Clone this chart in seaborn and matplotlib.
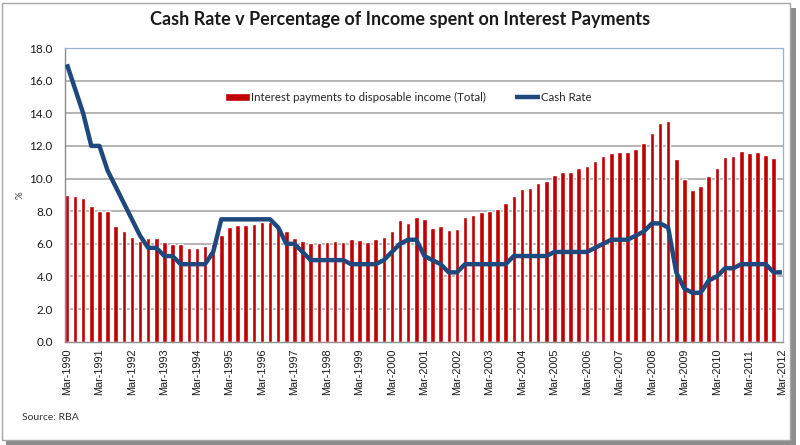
import numpy as np
import pandas as pd
import matplotlib
matplotlib.use("Agg")
import matplotlib.pyplot as plt
from matplotlib.patches import Rectangle
import seaborn as sns

sns.set_style("white")
plt.rcParams["font.family"] = ["Lato", "DejaVu Sans"]

# quarterly data, Mar-1990 onwards
interest = [
    8.98, 8.94, 8.83, 8.32,      # 1990
    8.01, 8.01, 7.09, 6.80,      # 1991
    6.39, 6.18, 6.35, 6.35,      # 1992
    6.08, 5.96, 5.96, 5.77,      # 1993
    5.73, 5.84, 6.00, 6.51,      # 1994
    7.03, 7.15, 7.17, 7.22,      # 1995
    7.35, 7.35, 7.08, 6.80,      # 1996
    6.33, 6.19, 6.05, 6.06,      # 1997
    6.13, 6.19, 6.13, 6.29,      # 1998
    6.23, 6.13, 6.29, 6.44,      # 1999
    6.80, 7.48, 7.28, 7.67,      # 2000
    7.51, 6.96, 7.10, 6.85,      # 2001
    6.90, 7.63, 7.75, 7.96,      # 2002
    7.98, 8.14, 8.49, 8.95,      # 2003
    9.36, 9.41, 9.72, 9.87,      # 2004
    10.20, 10.39, 10.43, 10.63,  # 2005
    10.78, 11.08, 11.39, 11.55,  # 2006
    11.61, 11.61, 11.80, 12.20,  # 2007
    12.80, 13.40, 13.50, 11.22,  # 2008
    9.96, 9.27, 9.55, 10.16,     # 2009
    10.63, 11.29, 11.39, 11.69,  # 2010
    11.59, 11.63, 11.45, 11.24,  # 2011
]

cash_rate = [
    17.0, 15.5, 14.0, 12.0,      # 1990
    12.0, 10.5, 9.5, 8.5,        # 1991
    7.5, 6.5, 5.75, 5.75,        # 1992
    5.25, 5.25, 4.75, 4.75,      # 1993
    4.75, 4.75, 5.5, 7.5,        # 1994
    7.5, 7.5, 7.5, 7.5,          # 1995
    7.5, 7.5, 7.0, 6.0,          # 1996
    6.0, 5.5, 5.0, 5.0,          # 1997
    5.0, 5.0, 5.0, 4.75,         # 1998
    4.75, 4.75, 4.75, 5.0,       # 1999
    5.5, 6.0, 6.25, 6.25,        # 2000
    5.25, 5.0, 4.75, 4.25,       # 2001
    4.25, 4.75, 4.75, 4.75,      # 2002
    4.75, 4.75, 4.75, 5.25,      # 2003
    5.25, 5.25, 5.25, 5.25,      # 2004
    5.5, 5.5, 5.5, 5.5,          # 2005
    5.5, 5.75, 6.0, 6.25,        # 2006
    6.25, 6.25, 6.5, 6.75,       # 2007
    7.25, 7.25, 7.0, 4.25,       # 2008
    3.25, 3.0, 3.0, 3.75,        # 2009
    4.0, 4.5, 4.5, 4.75,         # 2010
    4.75, 4.75, 4.75, 4.25,      # 2011
    4.25,                        # 2012
]

tick_years = list(range(1990, 2013))
tick_labels = [f"Mar-{y}" for y in tick_years]

bars = pd.DataFrame({"q": np.arange(len(interest)), "val": interest})
line = pd.DataFrame({"q": np.arange(len(cash_rate)), "val": cash_rate})

fig = plt.figure(figsize=(8, 4.45), dpi=100)
# outer frame with shadow, like the pasted Excel chart
fig.patches.append(Rectangle((6 / 800, 0.0), 790 / 800, 437 / 445,
                             transform=fig.transFigure, facecolor="#8c8c8c",
                             edgecolor="none", zorder=-2))
fig.patches.append(Rectangle((2 / 800, 5 / 445), 788 / 800, 437 / 445,
                             transform=fig.transFigure, facecolor="white",
                             edgecolor="#a6a6a6", linewidth=1, zorder=-1))

ax = fig.add_axes([65.3 / 800, 1 - 341.7 / 445, 717.4 / 800, 293.7 / 445])
ax.set_facecolor("none")
ax.set_axisbelow(True)

sns.barplot(data=bars, x="q", y="val", native_scale=True, width=0.56,
            color="#C00000", saturation=1, ax=ax,
            label="Interest payments to disposable income (Total)")
for p in ax.patches:
    p.set_zorder(2)
sns.lineplot(data=line, x="q", y="val", color="#1F497D", linewidth=3.2,
             ax=ax, label="Cash Rate", zorder=3, solid_joinstyle="round",
             solid_capstyle="butt")

ax.set_xlim(-0.2, 88.1)
ax.set_ylim(0, 18)
yt = np.arange(0, 18.1, 2)
ax.set_yticks(yt)
ax.set_yticklabels([f"{v:.1f}" for v in yt], fontsize=8.5, color="#1a1a1a")
for v in yt[1:]:
    ax.axhline(v, color="#a0a0a0", linewidth=1.1, zorder=0.5)
ax.set_xticks(np.arange(0, len(cash_rate), 4))
ax.set_xticklabels(tick_labels, rotation=90, fontsize=7.8,
                   family="Liberation Sans", color="#1a1a1a")
ax.tick_params(axis="y", length=0, pad=9)
ax.tick_params(axis="x", length=0, pad=5)
ax.set_xlabel("")
ax.set_ylabel("")
ax.grid(False)

for s in ["left", "bottom"]:
    ax.spines[s].set_color("#8c8c8c")
    ax.spines[s].set_linewidth(1)
for s in ["top", "right"]:
    ax.spines[s].set_color("#95b3d7")
    ax.spines[s].set_linewidth(0.9)

handles, labels = ax.get_legend_handles_labels()
order = [labels.index("Interest payments to disposable income (Total)"),
         labels.index("Cash Rate")]
ax.legend([handles[i] for i in order], [labels[i] for i in order],
          loc="center", bbox_to_anchor=(0.478, 0.83), ncol=2,
          frameon=False, fontsize=8.3, handlelength=2.2,
          handletextpad=0.1, columnspacing=2.5)

fig.text(400 / 800, 1 - 20 / 445,
         "Cash Rate v Percentage of Income spent on Interest Payments",
         ha="center", va="center", fontsize=13, fontweight="bold",
         color="#1a1a1a")
fig.text(20 / 800, 1 - 195 / 445, "%", rotation=90, ha="center", va="center",
         fontsize=7, color="#333333")
fig.text(22 / 800, 1 - 418 / 445, "Source: RBA", ha="left", va="center",
         fontsize=7.5, color="#333333")

fig.savefig("out.png", dpi=100)
